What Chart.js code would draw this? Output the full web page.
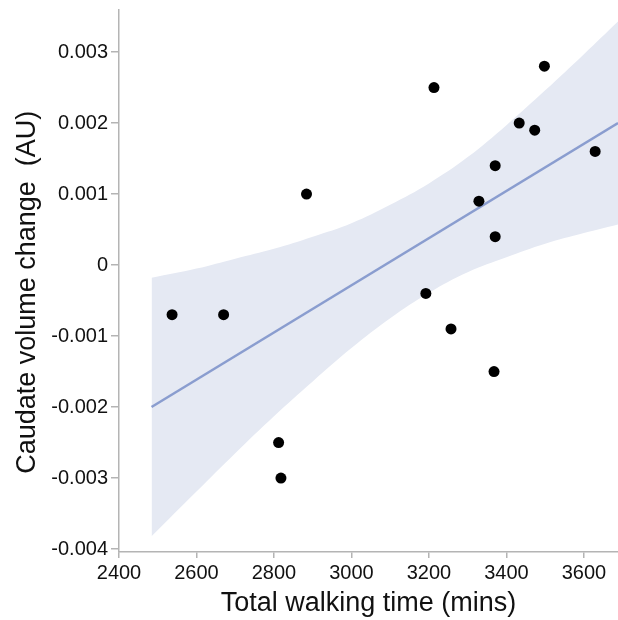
<!DOCTYPE html>
<html>
<head>
<meta charset="utf-8">
<script src="https://cdn.jsdelivr.net/npm/chart.js@4"></script>
<style>
  html, body { margin: 0; padding: 0; background: #fff; }
  #wrap { width: 618px; height: 620px; }
</style>
</head>
<body>
<div id="wrap"><canvas id="chart" width="618" height="620"></canvas></div>
<script>
// walking time vs caudate volume change
var walkMins = [2537, 2670, 2812, 2818, 2884, 3192, 3213, 3257, 3329, 3368, 3371, 3371, 3433, 3473, 3498, 3629];
var caudateChange = [-0.0007, -0.0007, -0.0025, -0.003, 0.001, -0.0004, 0.0025, -0.0009, 0.0009, -0.0015, 0.0014, 0.0004, 0.002, 0.0019, 0.0028, 0.0016];

// fitted line end points
var fitX = [2484, 3688];
var fitY = [-0.002, 0.002];

// confidence band
var bandX = [2484, 2600, 2700, 2800, 2900, 3000, 3100, 3200, 3300, 3400, 3500, 3600, 3688];
var bandUpper = [-0.00018, -0.00005, 0.00009, 0.00023, 0.0004, 0.00059, 0.00085, 0.00115, 0.00152, 0.00197, 0.00246, 0.00297, 0.00343];
var bandLower = [-0.00382, -0.00319, -0.00265, -0.00213, -0.00164, -0.00117, -0.00075, -0.00039, -0.0001, 0.00011, 0.0003, 0.00045, 0.00057];

var xTicks = [2400, 2600, 2800, 3000, 3200, 3400, 3600];
var yTicks = [-0.004, -0.003, -0.002, -0.001, 0, 0.001, 0.002, 0.003];

function pts(xs, ys) {
  return xs.map(function (x, i) { return { x: x, y: ys[i] }; });
}

var axisGrey = '#b4b4b4';
var fontFamily = '"Liberation Sans", Arial, Helvetica, sans-serif';

new Chart(document.getElementById('chart'), {
  type: 'scatter',
  data: {
    datasets: [
      {
        label: 'data', data: pts(walkMins, caudateChange), order: 0,
        pointRadius: 5.5, pointBackgroundColor: '#000', pointBorderWidth: 0,
      },
      {
        label: 'fit', type: 'line', data: pts(fitX, fitY), order: 1,
        borderColor: '#8a9dcf', borderWidth: 2.5, pointRadius: 0, fill: false,
      },
      {
        label: 'upper', type: 'line', data: pts(bandX, bandUpper), order: 2,
        borderWidth: 0, borderColor: 'rgba(0,0,0,0)', pointRadius: 0, tension: 0.4,
        fill: '+1', backgroundColor: '#e5e9f3',
      },
      {
        label: 'lower', type: 'line', data: pts(bandX, bandLower), order: 3,
        borderWidth: 0, borderColor: 'rgba(0,0,0,0)', pointRadius: 0, tension: 0.4, fill: false,
      },
    ],
  },
  options: {
    responsive: false, animation: false,
    layout: { autoPadding: false, padding: { top: 10, right: 0, left: 0, bottom: 0 } },
    plugins: { legend: { display: false }, tooltip: { enabled: false } },
    scales: {
      x: {
        type: 'linear', min: 2400, max: 3688,
        afterBuildTicks: function (s) { s.ticks = xTicks.map(function (v) { return { value: v }; }); },
        afterFit: function (s) { s.height = 68; s.paddingLeft = 0; s.paddingRight = 0; },
        grid: { drawOnChartArea: false, drawTicks: true, tickLength: 6, color: axisGrey, lineWidth: 1.5 },
        border: { display: true, color: axisGrey, width: 1.5 },
        ticks: {
          color: '#111', font: { family: fontFamily, size: 20 }, padding: 3, maxRotation: 0,
          callback: function (v) { return String(v); },
        },
        title: {
          display: true, text: 'Total walking time (mins)', color: '#111',
          font: { family: fontFamily, size: 27 }, padding: { top: 0, bottom: 0 },
        },
      },
      y: {
        type: 'linear', min: -0.004042, max: 0.003592,
        afterBuildTicks: function (s) { s.ticks = yTicks.map(function (v) { return { value: v }; }); },
        afterFit: function (s) { s.width = 119; s.paddingTop = 0; s.paddingBottom = 0; },
        grid: { drawOnChartArea: false, drawTicks: true, tickLength: 8, color: axisGrey, lineWidth: 1.5 },
        border: { display: true, color: axisGrey, width: 1.5 },
        ticks: {
          color: '#111', font: { family: fontFamily, size: 20 }, padding: 3,
          callback: function (v) { return v === 0 ? '0' : v.toFixed(3); },
        },
        title: {
          display: true, text: 'Caudate volume change  (AU)   ', color: '#111',
          font: { family: fontFamily, size: 27 }, padding: { top: 11, bottom: 0 },
        },
      },
    },
  },
});
</script>
</body>
</html>
